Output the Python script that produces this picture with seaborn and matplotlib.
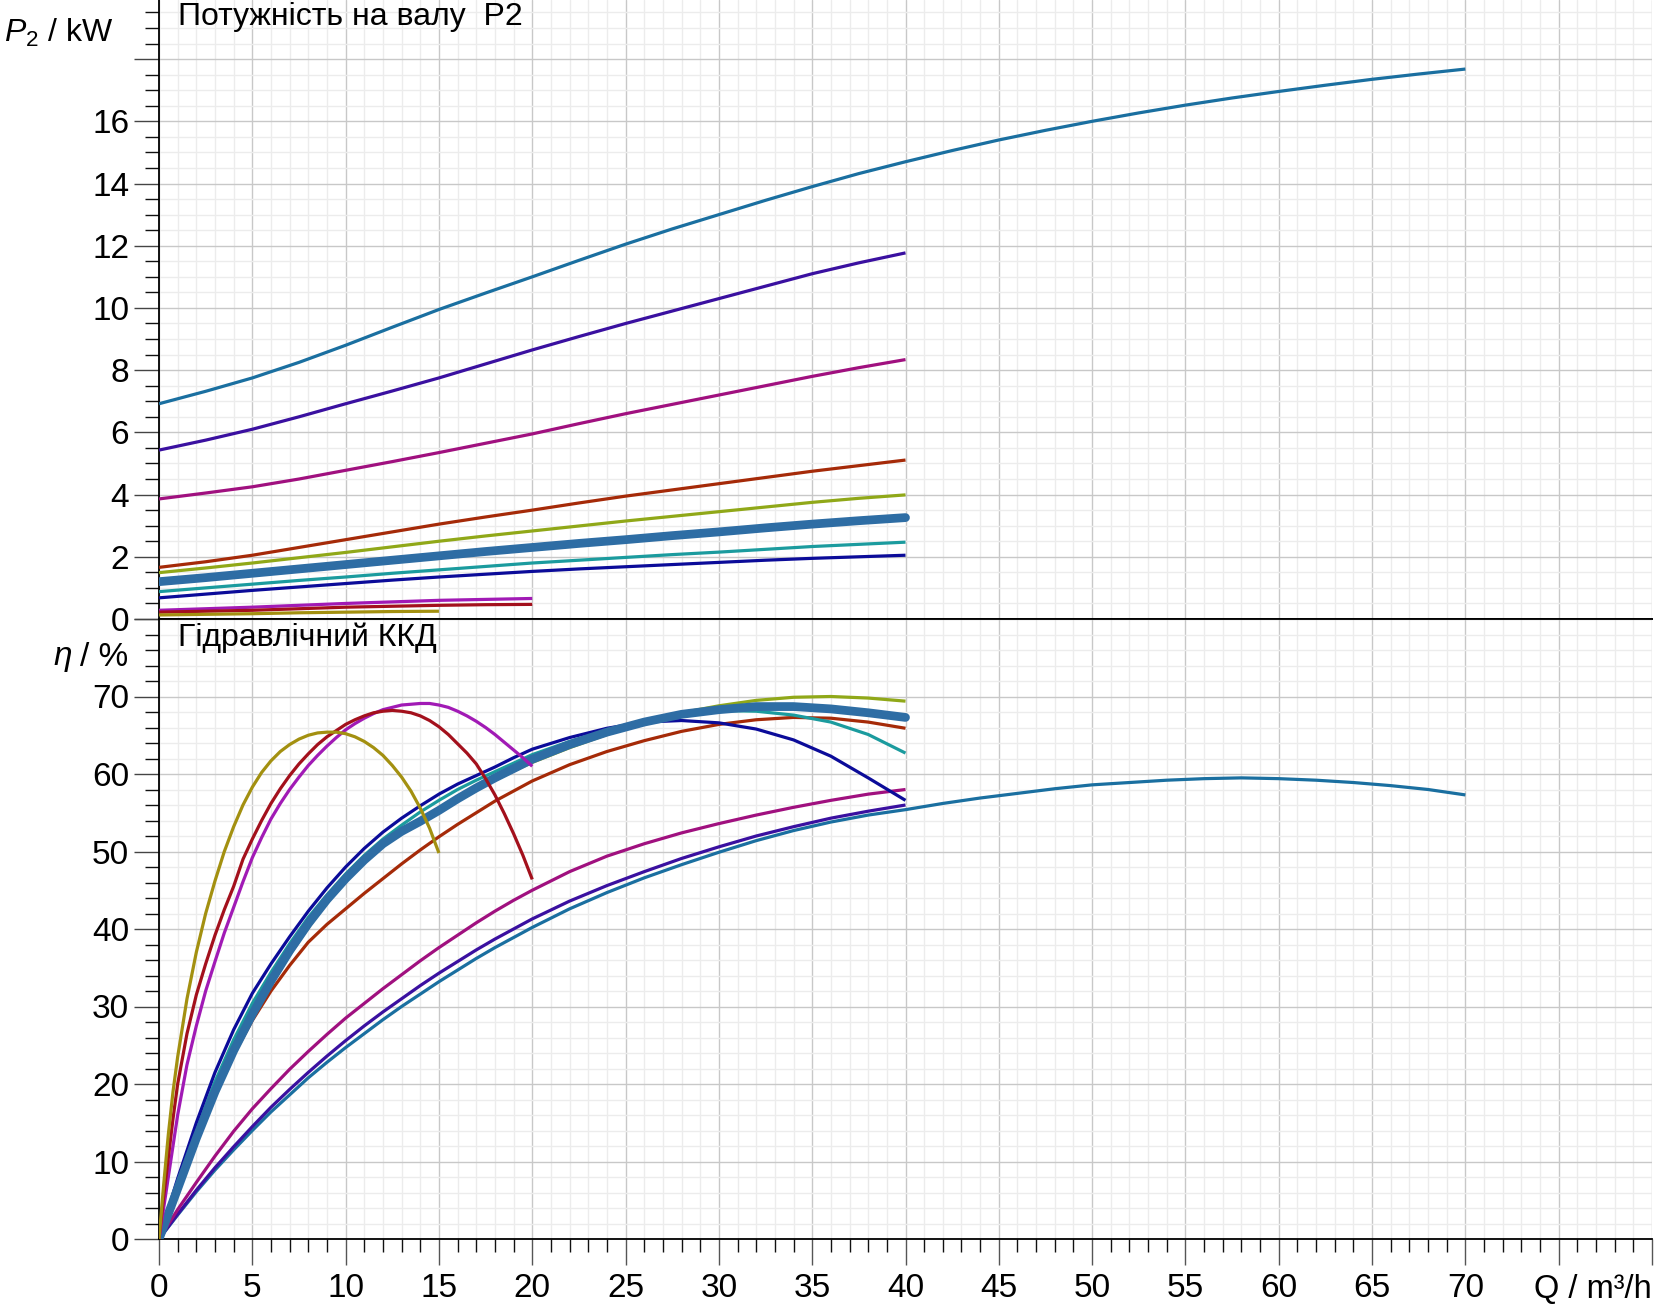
import matplotlib
matplotlib.use("Agg")
import matplotlib.pyplot as plt
import seaborn as sns
from matplotlib.ticker import MultipleLocator, FuncFormatter

# Q grids (m3/h)
q_p70 = [0, 2.5, 5, 7.5, 10, 12.5, 15, 17.5, 20, 22.5, 25, 27.5, 30, 32.5, 35, 37.5, 40,
         42.5, 45, 47.5, 50, 52.5, 55, 57.5, 60, 62.5, 65, 67.5, 70]
q_p40 = [0, 2.5, 5, 7.5, 10, 12.5, 15, 17.5, 20, 22.5, 25, 27.5, 30, 32.5, 35, 37.5, 40]
q_p20 = [0, 2.5, 5, 7.5, 10, 12.5, 15, 17.5, 20]
q_p15 = [0, 2.5, 5, 7.5, 10, 12.5, 15]

q_eta40 = [0, 1, 2, 3, 4, 5, 6, 7, 8, 9, 10, 11, 12, 13, 14, 15, 16, 17, 18, 19, 20,
           22, 24, 26, 28, 30, 32, 34, 36, 38, 40]
q_eta70 = q_eta40 + [42, 44, 46, 48, 50, 52, 54, 56, 58, 60, 62, 64, 66, 68, 70]
q_eta20 = [0, 0.25, 0.5, 0.75, 1, 1.5, 2, 2.5, 3, 3.5, 4, 4.5, 5, 5.5, 6, 6.5, 7, 7.5, 8,
           8.5, 9, 9.5, 10, 10.5, 11, 11.5, 12, 12.5, 13, 13.5, 14, 14.5, 15, 15.5, 16,
           16.5, 17, 17.5, 18, 18.5, 19, 19.5, 20]
q_eta15 = q_eta20[:33]

# shaft power P2 (kW)
p_s1 = [6.92, 7.32, 7.75, 8.25, 8.8, 9.38, 9.95, 10.48, 11.0, 11.53, 12.05, 12.54, 13.0,
        13.46, 13.9, 14.32, 14.7, 15.06, 15.4, 15.71, 16.0, 16.27, 16.52, 16.75, 16.96,
        17.16, 17.35, 17.52, 17.68]
p_s2 = [5.43, 5.75, 6.1, 6.5, 6.92, 7.33, 7.75, 8.2, 8.65, 9.08, 9.5, 9.9, 10.3, 10.7,
        11.1, 11.45, 11.77]
p_s3 = [3.86, 4.05, 4.25, 4.5, 4.78, 5.06, 5.35, 5.65, 5.95, 6.28, 6.6, 6.9, 7.2, 7.5,
        7.8, 8.08, 8.34]
p_s4 = [1.66, 1.84, 2.05, 2.3, 2.55, 2.8, 3.05, 3.28, 3.5, 3.73, 3.95, 4.15, 4.35, 4.55,
        4.75, 4.93, 5.11]
p_s5 = [1.49, 1.64, 1.8, 1.97, 2.14, 2.32, 2.5, 2.67, 2.83, 2.99, 3.15, 3.3, 3.45, 3.6,
        3.75, 3.88, 3.99]
p_s6 = [1.2, 1.33, 1.47, 1.61, 1.75, 1.89, 2.03, 2.17, 2.3, 2.43, 2.55, 2.68, 2.8, 2.93,
        3.05, 3.16, 3.26]
p_s7 = [0.88, 1.0, 1.12, 1.24, 1.35, 1.47, 1.58, 1.69, 1.8, 1.89, 1.98, 2.07, 2.15, 2.24,
        2.33, 2.4, 2.47]
p_s8 = [0.68, 0.8, 0.92, 1.03, 1.14, 1.25, 1.35, 1.44, 1.53, 1.61, 1.68, 1.75, 1.82, 1.89,
        1.95, 2.0, 2.05]
p_s9 = [0.28, 0.33, 0.38, 0.44, 0.5, 0.55, 0.6, 0.63, 0.66]
p_s10 = [0.22, 0.25, 0.28, 0.33, 0.38, 0.41, 0.44, 0.46, 0.47]
p_s11 = [0.13, 0.15, 0.17, 0.2, 0.22, 0.24, 0.25]

# hydraulic efficiency (%)
eta_s1 = [0, 3.1, 6.1, 8.9, 11.5, 14.0, 16.4, 18.6, 20.8, 22.8, 24.7, 26.5, 28.3, 30.0,
          31.6, 33.2, 34.7, 36.2, 37.6, 38.9, 40.2, 42.6, 44.7, 46.6, 48.3, 49.9, 51.4,
          52.7, 53.8, 54.7, 55.4, 56.2, 56.9, 57.5, 58.1, 58.6, 58.9, 59.2, 59.4, 59.5,
          59.4, 59.2, 58.9, 58.5, 58.0, 57.3]
eta_s2 = [0, 3.2, 6.3, 9.2, 11.9, 14.5, 17.0, 19.3, 21.5, 23.6, 25.6, 27.5, 29.3, 31.0,
          32.7, 34.3, 35.8, 37.3, 38.7, 40.0, 41.3, 43.6, 45.6, 47.4, 49.1, 50.6, 52.0,
          53.2, 54.3, 55.2, 56.0]
eta_s3 = [0, 3.8, 7.3, 10.7, 13.9, 16.8, 19.4, 21.9, 24.2, 26.4, 28.5, 30.4, 32.3, 34.1,
          35.9, 37.6, 39.2, 40.8, 42.3, 43.7, 45.0, 47.4, 49.4, 51.0, 52.4, 53.6, 54.7,
          55.7, 56.6, 57.4, 58.0]
eta_s4 = [0, 6.4, 12.8, 18.7, 23.8, 28.2, 32.0, 35.3, 38.3, 40.6, 42.6, 44.6, 46.5, 48.4,
          50.2, 51.9, 53.5, 55.0, 56.5, 57.8, 59.1, 61.2, 62.9, 64.3, 65.5, 66.4, 67.0,
          67.3, 67.2, 66.7, 65.9]
eta_s5 = [0, 6.2, 12.5, 18.4, 23.7, 28.5, 32.8, 36.7, 40.2, 43.4, 46.2, 48.7, 50.8, 52.6,
          54.0, 55.4, 56.8, 58.1, 59.3, 60.4, 61.5, 63.4, 65.1, 66.6, 67.9, 68.8, 69.5,
          69.9, 70.0, 69.8, 69.4]
eta_s6 = [0, 6.5, 13.0, 19.0, 24.3, 29.0, 33.3, 37.2, 40.7, 43.8, 46.5, 48.9, 51.0, 52.6,
          53.9, 55.3, 56.8, 58.2, 59.5, 60.7, 61.9, 63.8, 65.4, 66.7, 67.7, 68.3, 68.7,
          68.7, 68.4, 67.9, 67.3]
eta_s7 = [0, 7.2, 14.0, 20.3, 25.7, 30.4, 34.4, 38.1, 41.5, 44.4, 47.1, 49.5, 51.6, 53.4,
          55.1, 56.6, 58.0, 59.2, 60.3, 61.4, 62.5, 64.2, 65.6, 66.8, 67.7, 68.2, 68.1,
          67.6, 66.7, 65.1, 62.7]
eta_s8 = [0, 7.8, 15.0, 21.5, 27.0, 31.7, 35.5, 39.0, 42.3, 45.3, 48.0, 50.4, 52.5, 54.3,
          55.9, 57.4, 58.7, 59.8, 60.9, 62.1, 63.2, 64.7, 65.9, 66.7, 66.9, 66.6, 65.8,
          64.4, 62.3, 59.5, 56.6]
eta_s9 = [0, 4.0, 8.0, 12.0, 16.0, 22.5, 27.5, 32.0, 35.8, 39.5, 42.8, 46.1, 49.2, 51.8,
          54.2, 56.2, 58.0, 59.6, 61.1, 62.4, 63.6, 64.7, 65.7, 66.5, 67.2, 67.8, 68.3,
          68.6, 68.9, 69.0, 69.1, 69.1, 68.9, 68.6, 68.1, 67.5, 66.8, 66.0, 65.1, 64.1,
          63.1, 62.1, 61.0]
eta_s10 = [0, 5.5, 10.5, 15.5, 20.0, 26.5, 31.5, 35.5, 39.2, 42.5, 45.5, 49.0, 51.6, 54.0,
           56.2, 58.1, 59.8, 61.3, 62.6, 63.8, 64.8, 65.6, 66.4, 67.0, 67.5, 67.9, 68.1,
           68.2, 68.1, 67.9, 67.5, 66.9, 66.1, 65.1, 63.9, 62.7, 61.3, 59.4, 57.3, 54.9,
           52.3, 49.5, 46.4]
eta_s11 = [0, 7.0, 13.5, 19.0, 23.5, 31.0, 37.0, 42.0, 46.2, 50.0, 53.2, 56.0, 58.3, 60.2,
           61.7, 62.9, 63.8, 64.5, 65.0, 65.3, 65.4, 65.4, 65.2, 64.8, 64.2, 63.4, 62.4,
           61.1, 59.6, 57.8, 55.6, 53.0, 49.8]

colors = ["#1a6fa0", "#3a10a0", "#a0107f", "#a52a08", "#90a818", "#2e6da4",
          "#1b9b9e", "#0b0b99", "#a11ab5", "#a3101c", "#a39010"]

series = [
    (q_p70, p_s1, q_eta70, eta_s1),
    (q_p40, p_s2, q_eta40, eta_s2),
    (q_p40, p_s3, q_eta40, eta_s3),
    (q_p40, p_s4, q_eta40, eta_s4),
    (q_p40, p_s5, q_eta40, eta_s5),
    (q_p40, p_s6, q_eta40, eta_s6),
    (q_p40, p_s7, q_eta40, eta_s7),
    (q_p40, p_s8, q_eta40, eta_s8),
    (q_p20, p_s9, q_eta20, eta_s9),
    (q_p20, p_s10, q_eta20, eta_s10),
    (q_p15, p_s11, q_eta15, eta_s11),
]

sns.set_theme(style="white")
plt.rcParams['font.family'] = ['Liberation Sans', 'DejaVu Sans']
plt.rcParams['text.color'] = 'black'
plt.rcParams['mathtext.fontset'] = 'custom'
plt.rcParams['mathtext.rm'] = 'Liberation Sans'
plt.rcParams['mathtext.it'] = 'Liberation Sans:italic'

W, H = 1660, 1308
fig = plt.figure(figsize=(W / 100, H / 100), dpi=100)
left, right = 159 / W, 1652 / W
ax1 = fig.add_axes([left, 1 - 619 / H, right - left, 619 / H])
ax2 = fig.add_axes([left, 1 - 1239 / H, right - left, 620 / H])

for i, (qp, p, qe, e) in enumerate(series):
    thick = (i == 5)
    lw = 6.3 if thick else 2.3
    z = 4 if thick else (5 if i >= 8 else 3)
    cap = "round" if thick else "butt"
    sns.lineplot(x=qp, y=p, ax=ax1, color=colors[i], linewidth=lw, zorder=z,
                 estimator=None, sort=False, solid_capstyle=cap, solid_joinstyle="round")
    sns.lineplot(x=qe, y=e, ax=ax2, color=colors[i], linewidth=lw, zorder=z,
                 estimator=None, sort=False, solid_capstyle=cap, solid_joinstyle="round")


def fmt(limit):
    return FuncFormatter(lambda v, pos: "%g" % v if v <= limit + 1e-6 else "")


for ax, ymax, ymaj, ymin, ylab in [(ax1, 19.9, 2, 0.5, 16), (ax2, 80, 10, 2, 70)]:
    ax.set_xlim(0, 80)
    ax.set_ylim(0, ymax)
    ax.set_xlabel("")
    ax.set_ylabel("")
    ax.xaxis.set_major_locator(MultipleLocator(5))
    ax.xaxis.set_minor_locator(MultipleLocator(1))
    ax.yaxis.set_major_locator(MultipleLocator(ymaj))
    ax.yaxis.set_minor_locator(MultipleLocator(ymin))
    ax.yaxis.set_major_formatter(fmt(ylab))
    ax.set_axisbelow(True)
    ax.grid(which="major", color="#c8c8c8", linewidth=1.0)
    ax.grid(which="minor", color="#ececec", linewidth=1.0)
    ax.tick_params(axis="y", which="major", direction="out", length=18, width=1.0,
                   color="#444444", labelcolor="black", labelsize=24, pad=3.5, left=True)
    ax.tick_params(axis="y", which="minor", direction="out", length=10, width=1.0,
                   color="#111111", left=True)
    for s in ["top", "right"]:
        ax.spines[s].set_visible(False)
    for s in ["left", "bottom"]:
        ax.spines[s].set_color("black")
        ax.spines[s].set_linewidth(1.3)

ax1.tick_params(axis="x", which="both", bottom=False, labelbottom=False)
ax2.spines["top"].set_visible(True)
ax2.spines["top"].set_color("black")
ax2.spines["top"].set_linewidth(1.3)
ax2.xaxis.set_major_formatter(fmt(70))
ax2.tick_params(axis="x", which="major", direction="out", length=18.4, width=1.0,
                color="#555555", labelcolor="black", labelsize=24, pad=6, bottom=True)
ax2.tick_params(axis="x", which="minor", direction="out", length=9.4, width=1.0,
                color="#111111", bottom=True)

fig.text(178 / W, 1 - 17 / H, "Потужність на валу  P2", fontsize=23, ha="left", va="center")
fig.text(178 / W, 1 - 638 / H, "Гідравлічний ККД", fontsize=23, ha="left", va="center")
fig.text(4 / W, 1 - 33 / H, "$P_2$ / kW", fontsize=23, ha="left", va="center")
# eta label built from two plain texts so its box stays compact
fig.text(53 / W, 1 - 657 / H, "η", fontsize=24, fontstyle="italic", ha="left", va="center")
fig.text(80 / W, 1 - 657 / H, "/ %", fontsize=24, ha="left", va="center")
fig.text(1652 / W, 1 - 1290 / H, "Q / m³/h", fontsize=23.5, ha="right", va="center")

fig.savefig("out.png", dpi=100)
